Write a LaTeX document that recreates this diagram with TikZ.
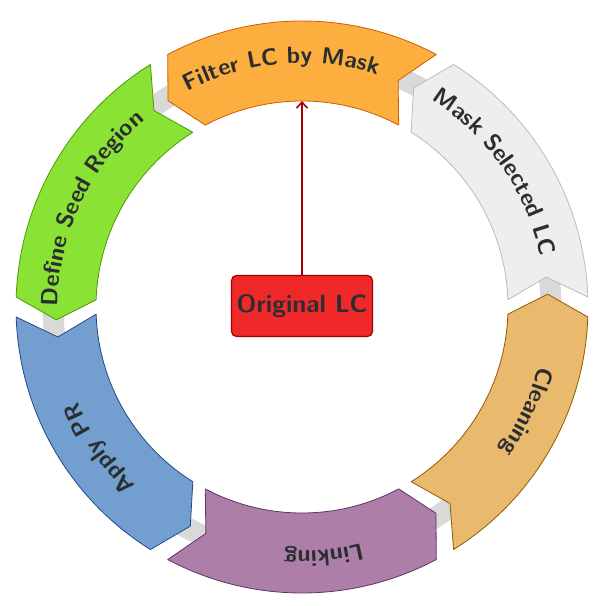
\documentclass[tikz,border=0pt]{standalone}
\usetikzlibrary{decorations.text,arrows.meta}
\definecolor{tOrange}{HTML}{FCAF3E}\definecolor{tOrangeD}{HTML}{CE5C00}
\definecolor{tGreen}{HTML}{8AE234}\definecolor{tGreenD}{HTML}{4E9A06}
\definecolor{tBlue}{HTML}{729FCF}\definecolor{tBlueD}{HTML}{204A87}
\definecolor{tPlum}{HTML}{AD7FA8}\definecolor{tPlumD}{HTML}{5C3566}
\definecolor{tTan}{HTML}{E9B96E}\definecolor{tTanD}{HTML}{8F5902}
\definecolor{tAlu}{HTML}{EEEEEC}\definecolor{tAluD}{HTML}{BABDB6}
\definecolor{tRed}{HTML}{EF2929}\definecolor{tRedD}{HTML}{A40000}
\definecolor{tText}{HTML}{2A2E30}
\newcommand{\segfont}{\sffamily\bfseries\fontsize{23.5}{24}\selectfont}
\newcommand{\origfont}{\sffamily\bfseries\fontsize{25}{26}\selectfont}
\tikzset{
  segbox/.style={line width=0.8pt, line join=round},
  ringline/.style={line width=21pt, draw=gray!30},
  origbox/.style={draw=tRedD, fill=tRed, line width=1.2pt, rounded corners=5pt,
    minimum width=141pt, minimum height=61pt, font=\origfont, text=tText},
  linkarrow/.style={draw=tRedD, line width=1.6pt, -{Straight Barb[length=6pt,width=11pt]}}
}
% #1 = clockwise end angle, #2 = fill, #3 = border, #4 = text
\newcommand{\cycseg}[4]{%
  \pgfmathsetmacro{\aa}{#1}\pgfmathsetmacro{\bb}{#1+56}%
  \pgfmathsetmacro{\bt}{#1+61}\pgfmathsetmacro{\an}{#1+5}%
  \pgfmathsetmacro{\ts}{#1+28+5+42}\pgfmathsetmacro{\te}{#1+28+5-42}%
  \draw[segbox, fill=#2, draw=#3] (\aa:286pt) arc[start angle=\aa, end angle=\bb, radius=286pt]
     -- (\bt:246pt) -- (\bb:206pt) arc[start angle=\bb, end angle=\aa, radius=206pt]
     -- (\an:246pt) -- cycle;
  \path[decorate, decoration={text along path, text align=center,
      text color=tText,
      text format delimiters={|}{|},
      text={|\segfont|#4}}]
     (\ts:244pt) arc[start angle=\ts, end angle=\te, radius=244pt];
}
\begin{document}
\begin{tikzpicture}[x=1pt,y=1pt]
\useasboundingbox (-302pt,-299pt) rectangle (295pt,307pt);
\draw[ringline] (0,0) circle[radius=249pt];
\cycseg{2}{tAlu}{tAluD}{Mask Selected LC}
\cycseg{62}{tOrange}{tOrangeD}{Filter LC by Mask}
\cycseg{122}{tGreen}{tGreenD}{Define Seed Region}
\cycseg{182}{tBlue}{tBlueD}{Apply PR}
\cycseg{242}{tPlum}{tPlumD}{Linking}
\cycseg{302}{tTan}{tTanD}{Cleaning}
\node[origbox] (orig) at (0pt,1pt) {Original LC};
\coordinate (filterin) at (90:206pt);
\draw[linkarrow] (orig) -- (filterin);
\end{tikzpicture}
\end{document}
